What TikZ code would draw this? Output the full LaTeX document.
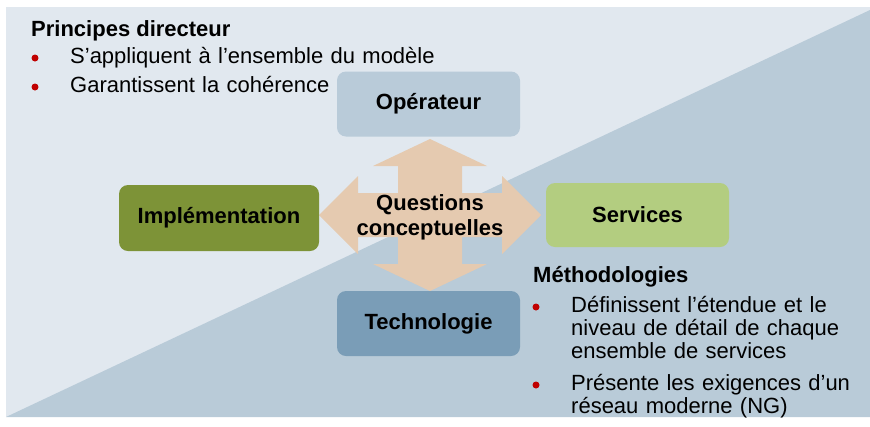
\documentclass[tikz,border=0pt]{standalone}
\usepackage{fontspec}
\setmainfont{Liberation Sans}
\usepackage{xcolor}
\usetikzlibrary{positioning}

\definecolor{bgLight}{HTML}{E1E8EF}
\definecolor{bgDark}{HTML}{B9CBD8}
\definecolor{opBlue}{HTML}{B9CBD9}
\definecolor{techBlue}{HTML}{7A9DB7}
\definecolor{oliveDark}{HTML}{7D9337}
\definecolor{oliveLight}{HTML}{B3CD80}
\definecolor{tan}{HTML}{E5CAB0}
\definecolor{dotRed}{HTML}{C00000}

\begin{document}
\begin{tikzpicture}[
  x=1pt, y=-1pt,
  font=\fontsize{22}{23}\selectfont,
  block/.style={rounded corners=9pt, inner sep=0pt, minimum width=183pt, minimum height=65pt, font=\fontsize{22}{24}\selectfont\bfseries},
  head/.style={anchor=base west, inner sep=0pt, font=\fontsize{22}{24}\selectfont\bfseries},
  item/.style={anchor=base west, inner sep=0pt, text width=290pt, align=left},
  dot/.style={fill=dotRed}
]
\useasboundingbox (0,0) rectangle (870,426);

% background, split along the diagonal
\fill[bgLight] (6,7) rectangle (870,417);
\fill[bgDark] (6,417) -- (870,10) -- (870,417) -- cycle;

% four-way arrow
\coordinate (mid) at (430,215);
\fill[tan] (430,139) -- (487,166) -- (462,166) -- (462,193) -- (502,193) -- (502,176)
  -- (541,215) -- (502,254) -- (502,237) -- (462,237) -- (462,264) -- (487,264)
  -- (430,291) -- (373,264) -- (398,264) -- (398,237) -- (358,237) -- (358,254)
  -- (319,215) -- (358,176) -- (358,193) -- (398,193) -- (398,166) -- (373,166) -- cycle;
\node[inner sep=0pt, anchor=base, text width=200pt, align=center,
  font=\fontsize{22}{25}\selectfont\bfseries] (qc) at (430,210) {Questions\\conceptuelles};

% the four blocks
\node[block, fill=opBlue] (op) at (428.5,104) {Opérateur};
\node[block, fill=techBlue] (tech) at (428.5,323.5) {Technologie};
\node[block, fill=oliveDark, minimum width=200pt, minimum height=66pt] (impl) at (219,218) {Implémentation};
\node[block, fill=oliveLight, minimum height=64pt] (serv) at (637.5,215) {Services};

% guiding principles
\node[head] (prin) at (31,36) {Principes directeur};
\node[item, text width=390pt] (prin1) at (70,63) {S’appliquent à l’ensemble du modèle};
\node[item, text width=390pt] (prin2) at (70,92) {Garantissent la cohérence};
\fill[dot] (35,58) circle (3.5);
\fill[dot] (35,87) circle (3.5);

% methodologies
\node[head] (meth) at (533,282) {Méthodologies};
\node[item] (meth1) at (571,312) {Définissent l’étendue et le\\niveau de détail de chaque\\ensemble de services};
\node[item] (meth2) at (571,390) {Présente les exigences d’un\\réseau moderne (NG)};
\fill[dot] (536,307) circle (3.5);
\fill[dot] (536,385) circle (3.5);
\end{tikzpicture}
\end{document}
